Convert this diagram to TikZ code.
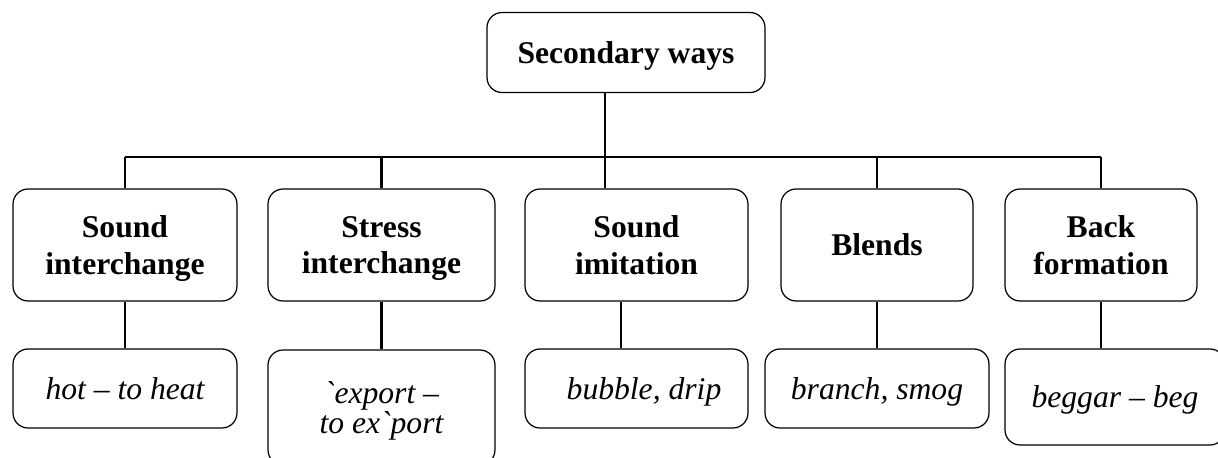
\documentclass[tikz,border=0pt]{standalone}
\usepackage{fontspec}
\setmainfont{Liberation Serif}

\begin{document}
\begin{tikzpicture}[x=0.02cm,y=-0.02cm,
    box/.style={draw, rounded corners=0.3cm, line width=0.7pt, align=center, inner sep=0pt, text depth=0pt},
    head/.style={box, font=\fontsize{18}{21}\selectfont\bfseries},
    ex/.style={box, font=\fontsize{18}{17}\selectfont\itshape},
    link/.style={line width=1.2pt}]
                \useasboundingbox (0,0) rectangle (1218,457);

                \node [head, minimum width=5.56cm, minimum height=1.6cm] (top) at (626,52.5) {Secondary ways};

                \node [head, minimum width=4.48cm, minimum height=2.24cm] (m1) at (125,245) {Sound\\interchange};
                \node [head, minimum width=4.54cm, minimum height=2.24cm] (m2) at (381.5,245) {Stress\\interchange};
                \node [head, minimum width=4.46cm, minimum height=2.24cm] (m3) at (636.5,245) {Sound\\imitation};
                \node [head, minimum width=3.84cm, minimum height=2.24cm] (m4) at (877,245) {Blends};
                \node [head, minimum width=3.84cm, minimum height=2.24cm] (m5) at (1101,245) {Back\\formation};

                \node [ex, minimum width=4.48cm, minimum height=1.58cm] (b1) at (125,388.5) {hot -- to heat};
                \node [ex, minimum width=4.54cm, minimum height=2.3cm] (b2) at (381.5,407.5) {\textasciigrave export --\\to ex\textasciigrave port};
                \node [ex, minimum width=4.46cm, minimum height=1.58cm] (b3) at (636.5,388.5) {\hspace*{0.3cm}bubble, drip};
                \node [ex, minimum width=4.48cm, minimum height=1.58cm] (b4) at (877,388.5) {branch, smog};
                \node [ex, minimum width=4.4cm, minimum height=1.92cm] (b5) at (1115,397) {beggar -- beg};

                \coordinate (j) at (605,157);
                \coordinate (k) at (621,300);

                \draw[link] (top.south -| j) -- (j);
                \draw[link] (m1.north |- j) -- (m5.north |- j);
                \draw[link] (j) -- (j |- m3.north);
                \foreach \n in {m1,m2,m4,m5}
                    \draw[link] (\n.north |- j) -- (\n.north);

                \draw[link] (m1) -- (b1);
                \draw[link] (m2) -- (b2);
                \draw[link] (m3.south -| k) -- (b3.north -| k);
                \draw[link] (m4) -- (b4);
                \draw[link] (m5.south) -- (m5.south |- b5.north);

\end{tikzpicture}
\end{document}
